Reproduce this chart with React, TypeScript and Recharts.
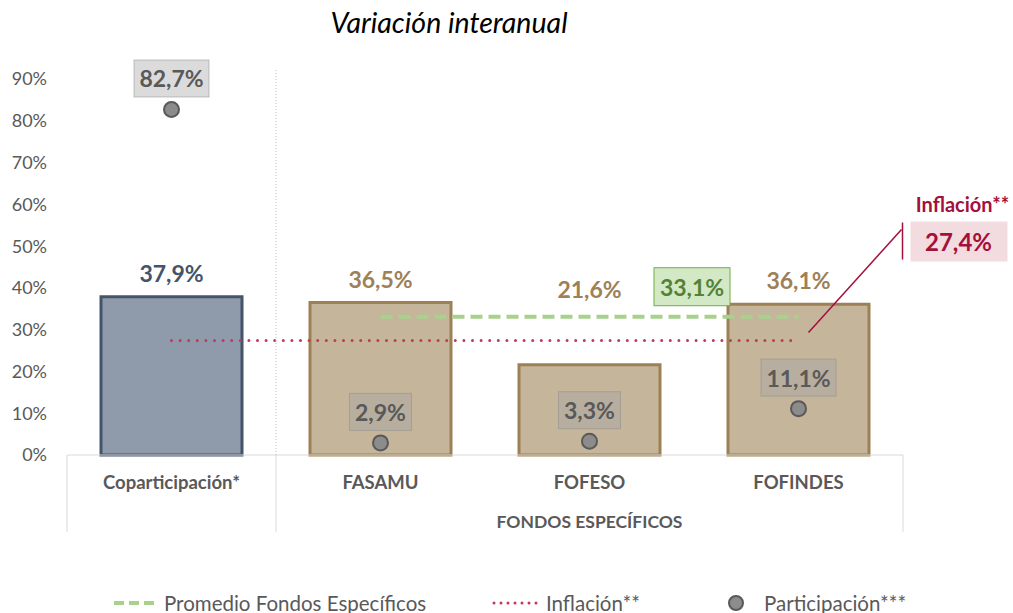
import { ComposedChart, Bar, Line, XAxis, YAxis, Cell, LabelList } from 'recharts';

const categorias = ['Coparticipación*', 'FASAMU', 'FOFESO', 'FOFINDES'];
const grupoFondos = 'FONDOS ESPECÍFICOS';
const variacion = [0.379, 0.365, 0.216, 0.361];
const participacion = [0.827, 0.029, 0.033, 0.111];
const promedioFondos = [null, 0.331, 0.331, 0.331];
const inflacion = [0.274, 0.274, 0.274, 0.274];
const yTicks = [0, 0.1, 0.2, 0.3, 0.4, 0.5, 0.6, 0.7, 0.8, 0.9];

const data = categorias.map((cat, i) => ({
  cat,
  variacion: variacion[i],
  participacion: participacion[i],
  promedio: promedioFondos[i],
  inflacion: inflacion[i],
}));

const W = 1013;
const H = 613;
const PLOT = { left: 67, right: 903, top: 79, bottom: 455 };
const BAND = (PLOT.right - PLOT.left) / categorias.length;
const FONT = 'Lato, "Open Sans", sans-serif';
const GREY_TEXT = '#595959';
const INFL = '#a50f3b';

const pct = (v: number) => (v * 100).toFixed(1).replace('.', ',') + '%';
const pctTick = (v: number) => `${Math.round(v * 100)}%`;

function CategoryTick(props: any) {
  const { x, index, payload } = props;
  const half = BAND / 2;
  const grid = '#d9d9d9';
  return (
    <g>
      <text x={x} y={482} textAnchor="middle" dominantBaseline="central" fontFamily={FONT} fontWeight={700} fontSize={18.5} fill={GREY_TEXT}>
        {payload.value}
      </text>
      {index === 0 && <line x1={x - half} x2={x - half} y1={PLOT.bottom} y2={532} stroke={grid} />}
      {index === 1 && (
        <>
          <line x1={x - half} x2={x - half} y1={PLOT.bottom} y2={532} stroke={grid} />
          <line x1={x - half} x2={x - half} y1={70} y2={PLOT.bottom} stroke="#bfbfbf" strokeDasharray="1 2" />
        </>
      )}
      {index === 2 && (
        <text x={x} y={521} textAnchor="middle" dominantBaseline="central" fontFamily={FONT} fontWeight={700} fontSize={17.5} fill={GREY_TEXT}>
          {grupoFondos}
        </text>
      )}
      {index === 3 && <line x1={x + half} x2={x + half} y1={PLOT.bottom} y2={532} stroke={grid} />}
    </g>
  );
}

function BarValueLabel(props: any) {
  const { x, y, width, height, value, index } = props;
  // FOFESO label sits higher in the original, level with the average box
  const pxPerUnit = height / value;
  const floor = y + height - 0.34 * pxPerUnit;
  const top = Math.min(y, floor);
  return (
    <text
      x={x + width / 2}
      y={top - 24}
      textAnchor="middle"
      dominantBaseline="central"
      fontFamily={FONT}
      fontWeight={700}
      fontSize={23}
      fill={index === 0 ? '#44546a' : '#9d8058'}
    >
      {pct(value)}
    </text>
  );
}

function ParticipacionLabel(props: any) {
  const { x, y, value } = props;
  const txt = pct(value);
  const w = txt.length * 13 + 10;
  const h = 37;
  const cy = y - 31;
  return (
    <g>
      <rect x={x - w / 2} y={cy - h / 2} width={w} height={h} fill="rgba(166,166,166,0.4)" stroke="rgba(140,140,140,0.5)" />
      <text x={x} y={cy} textAnchor="middle" dominantBaseline="central" fontFamily={FONT} fontWeight={700} fontSize={23} fill={GREY_TEXT}>
        {txt}
      </text>
    </g>
  );
}

function PromedioLabel(props: any) {
  const { x, y, value, index } = props;
  if (index !== 2 || value == null) return null;
  const cx = x + BAND / 2 - 2;
  const cy = y - 30;
  return (
    <g>
      <rect x={cx - 38} y={cy - 19} width={76} height={38} fill="#d3e8c5" stroke="#70ad47" />
      <text x={cx} y={cy} textAnchor="middle" dominantBaseline="central" fontFamily={FONT} fontWeight={700} fontSize={23} fill="#548235">
        {pct(value)}
      </text>
    </g>
  );
}

function InflacionLabel(props: any) {
  const { x, y, value, index } = props;
  if (index !== inflacion.length - 1) return null;
  return (
    <g>
      <line x1={x + 10} y1={y - 8} x2={x + 103} y2={y - 111} stroke={INFL} strokeWidth={1.5} />
      <line x1={x + 104} y1={y - 118} x2={x + 104} y2={y - 81} stroke={INFL} strokeWidth={1.5} />
      <rect x={x + 112} y={y - 119} width={97} height={40} fill="#f2dce0" />
      <text x={x + 160} y={y - 99} textAnchor="middle" dominantBaseline="central" fontFamily={FONT} fontWeight={700} fontSize={24} fill={INFL}>
        {pct(value)}
      </text>
      <text x={x + 164} y={y - 137} textAnchor="middle" dominantBaseline="central" fontFamily={FONT} fontWeight={700} fontSize={20} fill={INFL}>
        Inflación**
      </text>
    </g>
  );
}

function ParticipacionDot(props: any) {
  const { cx, cy, index } = props;
  if (cx == null || cy == null) return <g key={index} />;
  return <circle key={index} cx={cx} cy={cy} r={7.5} fill="#8c8c8c" stroke={GREY_TEXT} strokeWidth={2} />;
}

function LegendRow() {
  const t = { fontFamily: FONT, fontSize: 20.5, fill: GREY_TEXT, dominantBaseline: 'central' as const };
  return (
    <svg width={W} height={40} style={{ position: 'absolute', left: 0, top: 583 }}>
      <line x1={114} x2={157} y1={20} y2={20} stroke="#a9d18e" strokeWidth={4} strokeDasharray="10 5" />
      <text x={164} y={20} {...t}>Promedio Fondos Específicos</text>
      <line x1={494} x2={541} y1={20} y2={20} stroke="#be3b5a" strokeWidth={3} strokeDasharray="0 7" strokeLinecap="round" />
      <text x={546} y={20} {...t}>Inflación**</text>
      <circle cx={736} cy={20} r={7} fill="#8c8c8c" stroke={GREY_TEXT} strokeWidth={2} />
      <text x={764} y={20} {...t}>Participación***</text>
    </svg>
  );
}

export default function App() {
  return (
    <div style={{ position: 'absolute', left: 0, top: 0, width: W, height: H, overflow: 'hidden', background: '#fff' }}>
      <div
        style={{
          position: 'absolute',
          left: 0,
          width: 898,
          top: 5,
          textAlign: 'center',
          fontFamily: FONT,
          fontStyle: 'italic',
          fontSize: 28.5,
          color: '#000',
        }}
      >
        Variación interanual
      </div>
      <ComposedChart
        width={W}
        height={H}
        data={data}
        margin={{ top: PLOT.top, right: W - PLOT.right, left: 0, bottom: H - PLOT.bottom - 77 }}
      >
        <XAxis
          dataKey="cat"
          interval={0}
          height={77}
          tickLine={false}
          axisLine={{ stroke: '#d9d9d9' }}
          tick={<CategoryTick />}
        />
        <YAxis
          type="number"
          domain={[0, 0.9]}
          ticks={yTicks}
          width={PLOT.left}
          tickFormatter={pctTick}
          axisLine={false}
          tickLine={false}
          tickMargin={14}
          tick={{ fill: GREY_TEXT, fontSize: 18, fontFamily: FONT }}
        />
        <Bar dataKey="variacion" barSize={141} strokeWidth={3} isAnimationActive={false}>
          {data.map((d, i) => (
            <Cell key={d.cat} fill={i === 0 ? '#8f9bab' : '#c4b59b'} stroke={i === 0 ? '#44546a' : '#9d8055'} />
          ))}
          <LabelList dataKey="variacion" content={<BarValueLabel />} />
        </Bar>
        <Line
          dataKey="promedio"
          stroke="#a9d18e"
          strokeWidth={4}
          strokeDasharray="12 6"
          dot={false}
          activeDot={false}
          isAnimationActive={false}
        >
          <LabelList dataKey="promedio" content={<PromedioLabel />} />
        </Line>
        <Line
          dataKey="inflacion"
          stroke="#be3b5a"
          strokeWidth={3}
          strokeDasharray="0 8.6"
          strokeLinecap="round"
          dot={false}
          activeDot={false}
          isAnimationActive={false}
        >
          <LabelList dataKey="inflacion" content={<InflacionLabel />} />
        </Line>
        <Line
          dataKey="participacion"
          stroke="none"
          dot={<ParticipacionDot />}
          activeDot={false}
          isAnimationActive={false}
        >
          <LabelList dataKey="participacion" content={<ParticipacionLabel />} />
        </Line>
      </ComposedChart>
      <LegendRow />
    </div>
  );
}
